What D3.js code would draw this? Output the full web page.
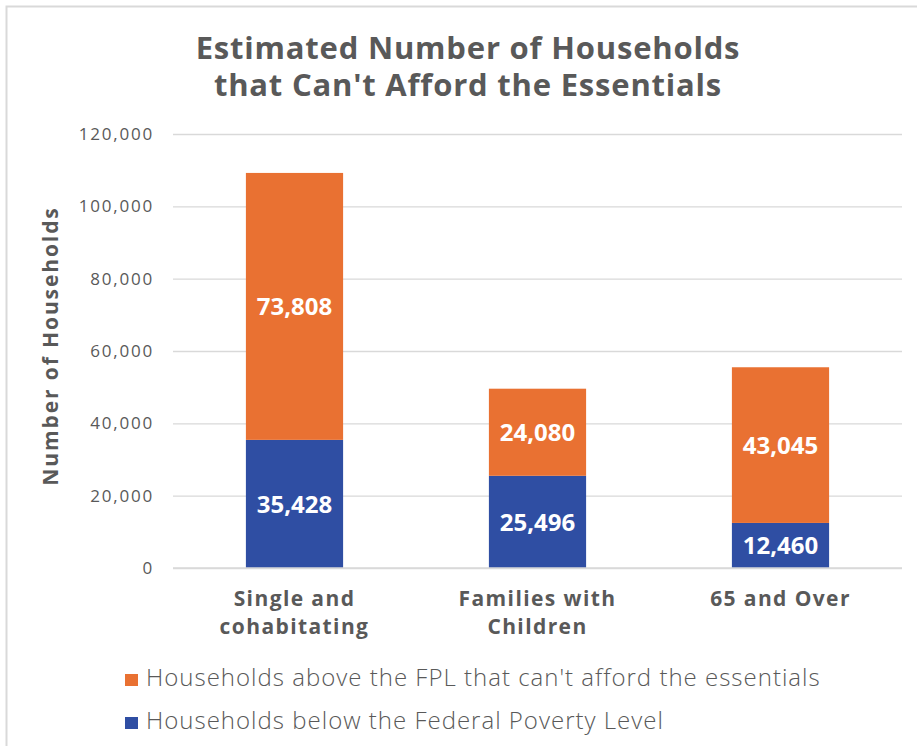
<!DOCTYPE html>
<html>
<head>
<meta charset="utf-8">
<script src="https://cdn.jsdelivr.net/npm/d3@7"></script>
<style>
  html, body { margin: 0; padding: 0; background: #fff; }
  svg { display: block; font-family: "Open Sans", Lato, sans-serif; }
</style>
</head>
<body>
<svg id="chart" width="917" height="746"></svg>
<script>
// Household groups and stacked counts
const categories = [["Single and", "cohabitating"], ["Families with", "Children"], ["65 and Over"]];
const belowFPL = [35428, 25496, 12460];
const aboveFPL = [73808, 24080, 43045];
const yTicks = [0, 20000, 40000, 60000, 80000, 100000, 120000];
const seriesNames = [
  "Households above the FPL that can't afford the essentials",
  "Households below the Federal Poverty Level"
];
const colors = { above: "#e97132", below: "#2f4ea3", text: "#595959", grid: "#d9d9d9" };

const svg = d3.select("#chart");

// outer frame
svg.append("path")
  .attr("d", "M6.5,746 V6.5 H917")
  .attr("fill", "none").attr("stroke", "#d9d9d9").attr("stroke-width", 2);

// title
const title = svg.append("text").attr("text-anchor", "middle")
  .attr("fill", colors.text).attr("font-size", 31).attr("font-weight", 700)
  .attr("letter-spacing", 0.8);
title.append("tspan").attr("x", 468).attr("y", 59).text("Estimated Number of Households");
title.append("tspan").attr("x", 468).attr("y", 96).text("that Can't Afford the Essentials");

const plotLeft = 173, plotRight = 902, plotTop = 134, plotBottom = 568;
const x = d3.scaleBand().domain(d3.range(categories.length)).range([plotLeft, plotRight]).paddingInner(0.6).paddingOuter(0.3);
const y = d3.scaleLinear().domain([0, 120000]).range([plotBottom, plotTop]);

// gridlines + tick labels
const yAxis = d3.axisLeft(y).tickValues(yTicks).tickSize(-(plotRight - plotLeft)).tickPadding(19)
  .tickFormat(d3.format(","));
const gy = svg.append("g").attr("transform", `translate(${plotLeft},0)`).call(yAxis);
gy.select(".domain").remove();
gy.selectAll(".tick line").attr("stroke", colors.grid).attr("stroke-width", 1.3);
gy.selectAll(".tick text").attr("fill", colors.text).attr("font-size", 17)
  .attr("font-family", "'Open Sans', sans-serif").attr("letter-spacing", 1.8);

// y axis title
svg.append("text")
  .attr("transform", `translate(58,346) rotate(-90)`)
  .attr("text-anchor", "middle").attr("fill", colors.text)
  .attr("font-size", 21).attr("font-weight", 700).attr("letter-spacing", 1.9)
  .text("Number of Households");

// stacked bars
const rows = categories.map((c, i) => ({ i, below: belowFPL[i], above: aboveFPL[i] }));
const stack = d3.stack().keys(["below", "above"])(rows);
const g = svg.append("g");
stack.forEach(layer => {
  g.selectAll(null).data(layer).enter().append("rect")
    .attr("x", d => x(d.data.i))
    .attr("width", x.bandwidth())
    .attr("y", d => y(d[1]))
    .attr("height", d => y(d[0]) - y(d[1]))
    .attr("fill", layer.key === "below" ? colors.below : colors.above);
  g.selectAll(null).data(layer).enter().append("text")
    .attr("x", d => x(d.data.i) + x.bandwidth() / 2)
    .attr("y", d => (y(d[0]) + y(d[1])) / 2 + 9)
    .attr("text-anchor", "middle").attr("fill", "#fff")
    .attr("font-size", 24).attr("font-weight", 700)
    .text(d => d3.format(",")(d.data[layer.key]));
});

// baseline
svg.append("line").attr("x1", plotLeft).attr("x2", plotRight).attr("y1", y(0)).attr("y2", y(0))
  .attr("stroke", colors.grid).attr("stroke-width", 1.5);

// category labels
categories.forEach((lines, i) => {
  const t = svg.append("text").attr("text-anchor", "middle").attr("fill", colors.text)
    .attr("font-size", 21).attr("font-weight", 700).attr("letter-spacing", 1.4);
  lines.forEach((ln, k) => {
    t.append("tspan").attr("x", x(i) + x.bandwidth() / 2).attr("y", 606 + k * 28).text(ln);
  });
});

// legend
const legend = svg.append("g");
[[seriesNames[0], colors.above], [seriesNames[1], colors.below]].forEach(([name, col], k) => {
  const ly = 686 + k * 43;
  legend.append("rect").attr("x", 125).attr("y", ly - 12).attr("width", 13).attr("height", 12).attr("fill", col);
  legend.append("text").attr("x", 146).attr("y", ly).attr("fill", colors.text)
    .attr("font-size", 24).attr("font-weight", 300).attr("letter-spacing", 1.0).text(name);
});
</script>
</body>
</html>
